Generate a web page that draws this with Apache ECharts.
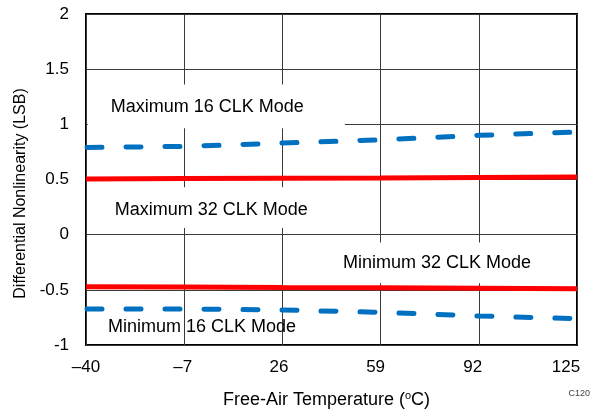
<!DOCTYPE html>
<html><head><meta charset="utf-8">
<script src="https://cdn.jsdelivr.net/npm/echarts@6/dist/echarts.min.js"></script>
<style>html,body{margin:0;padding:0;background:#fff}#c{width:590px;height:410px}</style>
</head><body><div id="c"></div>
<script>
var temps = [-40, -7, 26, 59, 92, 125];
var max16 = [0.79, 0.80, 0.83, 0.86, 0.90, 0.93];
var max32 = [0.505, 0.508, 0.511, 0.514, 0.518, 0.523];
var min32 = [-0.471, -0.475, -0.479, -0.482, -0.486, -0.49];
var min16 = [-0.673, -0.673, -0.683, -0.704, -0.737, -0.761];
var xTickLabels = ['\u201340', '\u20137', '26', '59', '92', '125'];
var yTicks = [-1, -0.5, 0, 0.5, 1, 1.5, 2];
var seriesNames = ['Maximum 16 CLK Mode', 'Maximum 32 CLK Mode', 'Minimum 32 CLK Mode', 'Minimum 16 CLK Mode'];

function pts(v){ return temps.map(function(t,i){ return [t, v[i]]; }); }
var FONT = '"Liberation Sans", Arial, sans-serif';
var xShift = [0, 3, 7, 10, 12, 22];
var rich = {};
xShift.forEach(function(s,i){ rich['p'+i] = {fontSize:17, color:'#000', fontFamily:FONT, padding:[0, s, 0, 0]}; });

var chart = echarts.init(document.getElementById('c'), null, {renderer:'canvas'});
var boxStyle = {color:'#fff', borderWidth:0};
var lbl = {show:true, color:'#000', fontSize:18, fontFamily:FONT};
chart.setOption({
  animation:false,
  grid:{left:86, right:13, top:14, bottom:65, show:true, borderColor:'#000', borderWidth:2, backgroundColor:'#fff', z:0,
    containLabel:false, outerBoundsMode:'none'},
  xAxis:{type:'value', min:-40, max:125, interval:33,
    axisLine:{show:false}, axisTick:{show:false},
    splitLine:{show:true, lineStyle:{color:'#3a3a3a', width:1}},
    axisLabel:{margin:14, fontSize:17, color:'#000', fontFamily:FONT, rich:rich,
      formatter:function(v){ var i = temps.indexOf(v); return i>=0 ? '{p'+i+'|'+xTickLabels[i]+'}' : ''; }},
    name:'Free-Air Temperature ({s|o}C)', nameLocation:'middle', nameGap:45,
    nameTextStyle:{fontSize:18, color:'#000', fontFamily:FONT, padding:[0,10,0,0],
      rich:{s:{fontSize:11, verticalAlign:'top', padding:[0,0,9,0], fontFamily:FONT, color:'#000'}}}
  },
  yAxis:{type:'value', min:-1, max:2, interval:0.5,
    axisLine:{show:false}, axisTick:{show:false},
    splitLine:{show:true, lineStyle:{color:'#3a3a3a', width:1}},
    axisLabel:{margin:17, fontSize:17, color:'#000', fontFamily:FONT,
      formatter:function(v){ return String(v); }},
    name:'Differential Nonlinearity (LSB)', nameLocation:'middle', nameGap:56,
    nameTextStyle:{fontSize:16, color:'#000', fontFamily:FONT, padding:[0,28,0,0]}
  },
  series:[
    {name:seriesNames[0], type:'line', data:pts(max16), symbol:'none', z:5,
      lineStyle:{color:'#0070c0', width:5, type:[15,24], cap:'round', dashOffset:38},
      markArea:{silent:true, itemStyle:boxStyle, z:1,
        label:Object.assign({position:'insideLeft', distance:23, offset:[0,1]}, lbl),
        data:[[{name:seriesNames[0], coord:[-39.4,1.36]},{coord:[47,0.965]}]]}},
    {name:seriesNames[1], type:'line', data:pts(max32), symbol:'none', z:5,
      lineStyle:{color:'#ff0000', width:5},
      markArea:{silent:true, itemStyle:boxStyle, z:1,
        label:Object.assign({position:'insideLeft', distance:27, offset:[0,2]}, lbl),
        data:[[{name:seriesNames[1], coord:[-39.4,0.43]},{coord:[45,0.06]}]]}},
    {name:seriesNames[2], type:'line', data:pts(min32), symbol:'none', z:5,
      lineStyle:{color:'#ff0000', width:5},
      markArea:{silent:true, itemStyle:boxStyle, z:1,
        label:Object.assign({position:'insideLeft', distance:13, offset:[0,0]}, lbl),
        data:[[{name:seriesNames[2], coord:[42,-0.07]},{coord:[124.4,-0.44]}]]}},
    {name:seriesNames[3], type:'line', data:pts(min16), symbol:'none', z:5,
      lineStyle:{color:'#0070c0', width:5, type:[15,24], cap:'round', dashOffset:38},
      markPoint:{silent:true, symbol:'rect', symbolSize:0,
        label:Object.assign({position:'inside'}, lbl),
        data:[{name:seriesNames[3], coord:[-1,-0.84], value:seriesNames[3],
          label:{formatter:seriesNames[3]}}]}}
  ],
  graphic:[{type:'text', right:0, top:389, style:{text:'C120', fontSize:9, fill:'#444', fontFamily:FONT}}]
});
</script></body></html>
